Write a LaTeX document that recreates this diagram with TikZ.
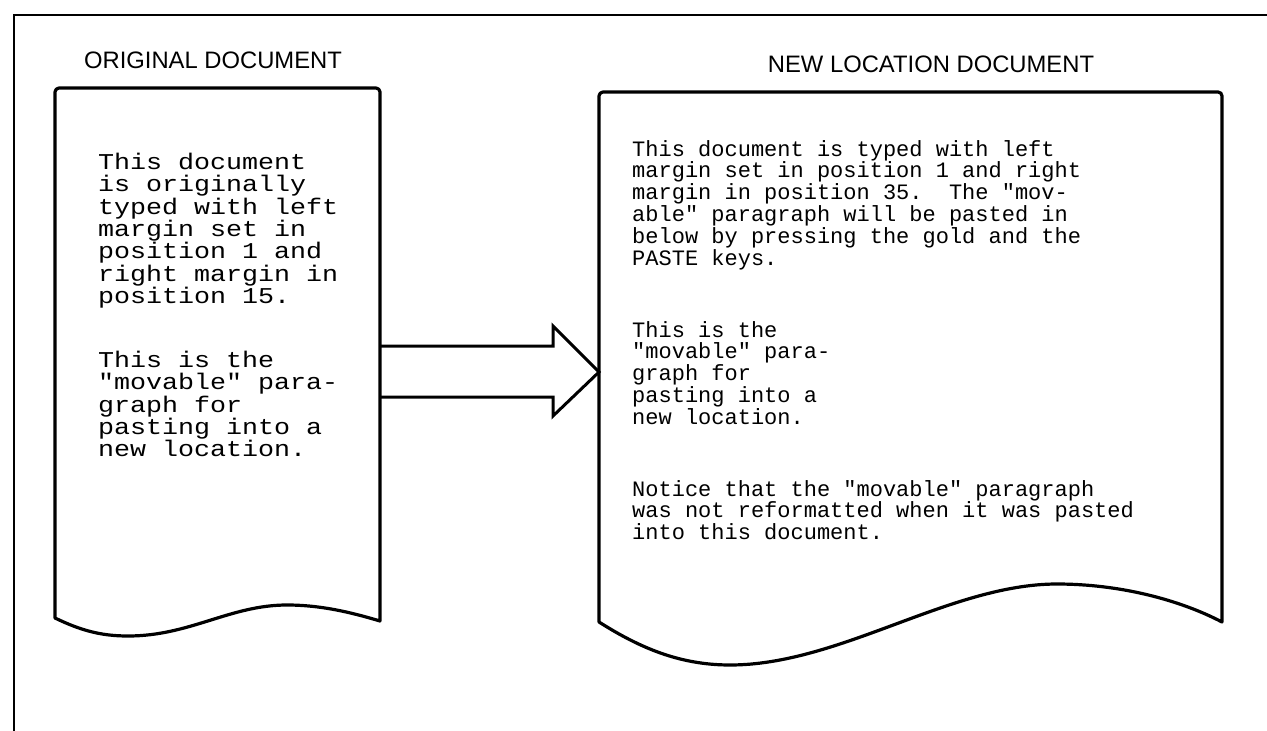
\documentclass[tikz,border=0pt]{standalone}
\usepackage{fontspec}
\newfontfamily\headfont{Liberation Sans}
\newfontfamily\typefont{Liberation Mono}
\newfontfamily\widetypefont[FakeStretch=1.18]{Liberation Mono}
\newcommand\mytightlines{\setlength{\lineskiplimit}{-30pt}\setlength{\lineskip}{0pt}}
\begin{document}
\begin{tikzpicture}[x=1pt,y=-1pt,
  frameline/.style={line width=2.6pt,line cap=rect},
  docline/.style={line width=3.2pt,line join=round},
  heading/.style={font=\headfont\fontsize{23.8}{26}\selectfont,inner sep=0pt},
  lefttext/.style={font={\widetypefont\fontsize{22.6}{22.3}\selectfont\mytightlines},align=left,inner sep=0pt,anchor=north west},
  righttext/.style={font={\typefont\fontsize{22}{21.8}\selectfont\mytightlines},align=left,inner sep=0pt,anchor=north west}]
\useasboundingbox (0,0) rectangle (1267,731);
\fill[white] (0,0) rectangle (1267,731);
% outer frame
\draw[frameline] (14,731) -- (14,15) -- (1267,15);
% headings
\node[heading] (h1) at (213,60) {ORIGINAL DOCUMENT};
\node[heading] (h2) at (931,64) {NEW LOCATION DOCUMENT};
% left document
\coordinate (L1) at (55,618);
\coordinate (L2) at (55,88);
\coordinate (L3) at (380,88);
\coordinate (L4) at (380,621);
\draw[docline] (L1) [rounded corners=4pt] -- (L2) -- (L3) [sharp corners] -- (L4)
  .. controls (350,612) and (320,605) .. (287,605)
  .. controls (230,605) and (190,636) .. (128,636)
  .. controls (100,636) and (80,630) .. (L1) -- cycle;
% right document
\coordinate (R1) at (599,622);
\coordinate (R2) at (599,92);
\coordinate (R3) at (1222,92);
\coordinate (R4) at (1222,622);
\draw[docline] (R1) [rounded corners=4pt] -- (R2) -- (R3) [sharp corners] -- (R4)
  .. controls (1180,600) and (1120,584) .. (1057,584)
  .. controls (950,584) and (840,665) .. (730,665)
  .. controls (680,665) and (640,648) .. (R1) -- cycle;
% arrow
\coordinate (a1) at (L4 |- 0,346);
\coordinate (a2) at (553,346);
\coordinate (a3) at (553,326);
\coordinate (tip) at (R1 |- 0,372);
\coordinate (a5) at (553,416);
\coordinate (a6) at (553,397);
\coordinate (a7) at (L4 |- 0,397);
\draw[docline,line width=3pt,line join=miter] (a1) -- (a2) -- (a3) -- (tip) -- (a5) -- (a6) -- (a7);
% texts
\node[lefttext] (lt1) at (98,153) {This document\\is originally\\typed with left\\margin set in\\position 1 and\\right margin in\\position 15.};
\node[lefttext] (lt2) at (98,351) {This is the\\"movable" para-\\graph for\\pasting into a\\new location.};
\node[righttext] (rt1) at (632,140) {This document is typed with left\\margin set in position 1 and right\\margin in position 35.\ \ The "mov-\\able" paragraph will be pasted in\\below by pressing the gold and the\\PASTE keys.};
\node[righttext] (rt2) at (632,321) {This is the\\"movable" para-\\graph for\\pasting into a\\new location.};
\node[righttext] (rt3) at (632,480) {Notice that the "movable" paragraph\\was not reformatted when it was pasted\\into this document.};
\end{tikzpicture}
\end{document}
